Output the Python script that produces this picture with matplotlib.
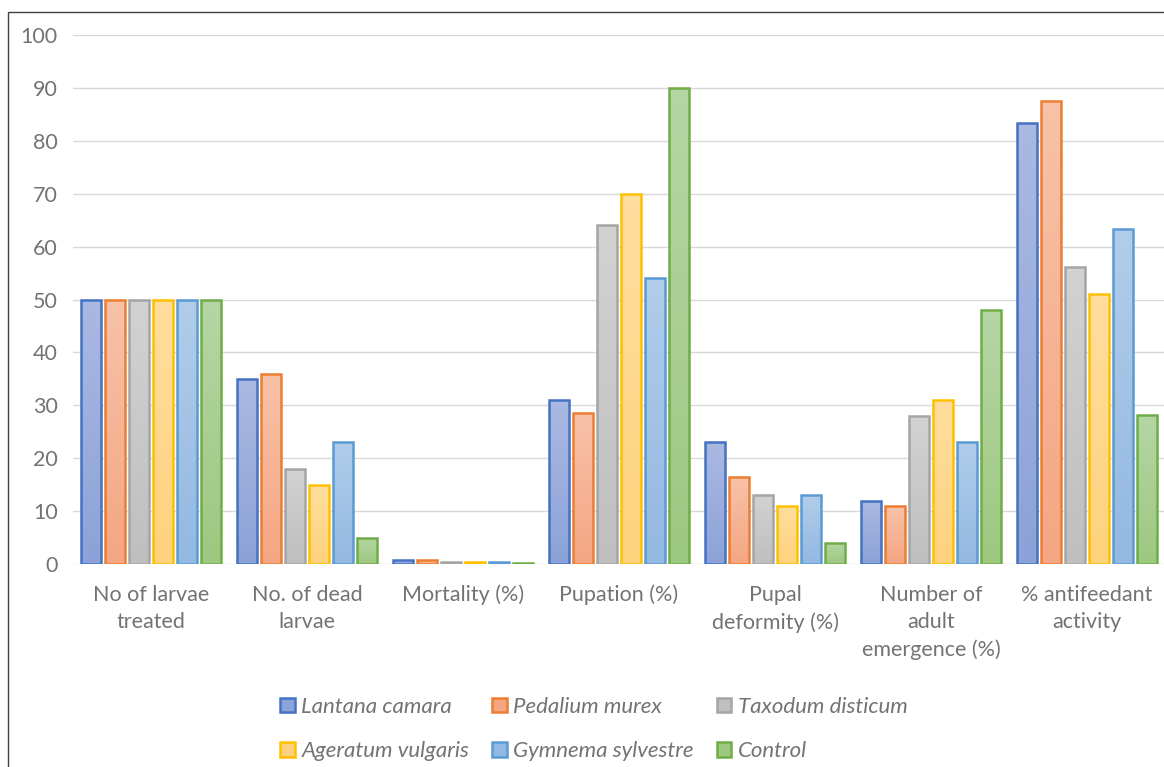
import numpy as np
import matplotlib
matplotlib.use("Agg")
import matplotlib.pyplot as plt
from matplotlib.patches import Patch, Rectangle
from matplotlib.colors import LinearSegmentedColormap

# ── data ──────────────────────────────────────────────────────
categories = ["No of larvae\ntreated", "No. of dead\nlarvae", "Mortality (%)",
              "Pupation (%)", "Pupal\ndeformity (%)",
              "Number of\nadult\nemergence (%)", "% antifeedant\nactivity"]
series = ["Lantana camara", "Pedalium murex", "Taxodum disticum",
          "Ageratum vulgaris", "Gymnema sylvestre", "Control"]

lantana  = [50, 35, 0.7, 31.0, 23.0, 12.0, 83.3]
pedalium = [50, 36, 0.72, 28.5, 16.5, 11.0, 87.5]
taxodum  = [50, 18, 0.36, 64.0, 13.0, 28.0, 56.2]
ageratum = [50, 15, 0.3, 70.0, 11.0, 31.0, 51.0]
gymnema  = [50, 23, 0.46, 54.0, 13.0, 23.0, 63.3]
control  = [50, 5, 0.1, 90.0, 4.0, 48.0, 28.2]
values = [lantana, pedalium, taxodum, ageratum, gymnema, control]

edge_cols = ["#4472C4", "#ED7D31", "#A5A5A5", "#FFC000", "#5B9BD5", "#70AD47"]
top_cols  = ["#AAB9E1", "#F8C2A8", "#D2D2D2", "#FFDE9E", "#B1CDEA", "#B5D6A5"]
bot_cols  = ["#8CA2D8", "#F4A683", "#BFBFBF", "#FED27D", "#93B8E2", "#9DC880"]

plt.rcParams["font.family"] = ["Lato", "DejaVu Sans"]
txt_col = "#737373"

fig = plt.figure(figsize=(11.64, 7.67), dpi=100)
ax = fig.add_axes([73 / 1164, 1 - 564 / 767, 1092 / 1164, (564 - 35) / 767])

x = np.arange(len(categories))
pitch, width = 0.154, 0.128
grad = np.linspace(0, 1, 64).reshape(-1, 1)
for i, (vals, ec, tc, bc) in enumerate(zip(values, edge_cols, top_cols, bot_cols)):
    cmap = LinearSegmentedColormap.from_list(f"g{i}", [bc, tc])
    bars = ax.bar(x + (i - 2.5) * pitch, vals, width, color="none", edgecolor=ec,
                  linewidth=1.8, zorder=4)
    # vertical gradient fill, lighter at the top
    for b in bars:
        x0, y0 = b.get_x(), b.get_y()
        im = ax.imshow(grad, cmap=cmap, origin="lower", aspect="auto",
                       extent=(x0, x0 + b.get_width(), y0, y0 + b.get_height()),
                       zorder=3)
        im.set_clip_path(b)

ax.set_xlim(-0.5, 6.5)
ax.set_ylim(0, 100)
ax.set_yticks(range(0, 101, 10))
ax.yaxis.grid(True, color="#D9D9D9", linewidth=1.0, zorder=0)
ax.set_xticks(x)
ax.set_xticklabels(categories, fontsize=15.5, color=txt_col, linespacing=1.45)
ax.tick_params(axis="both", length=0, labelsize=15.5, labelcolor=txt_col)
ax.tick_params(axis="x", pad=15)
ax.tick_params(axis="y", pad=11)
for s in ax.spines.values():
    s.set_visible(False)

# chart frame
fig.patches.append(Rectangle((8 / 1164, -0.1), 1.2, 1 - 12 / 767 + 0.1,
                             transform=fig.transFigure, fill=False,
                             edgecolor="#404040", linewidth=1.0))

# legend fills row by row
order = [0, 3, 1, 4, 2, 5]
handles = [Patch(facecolor=bot_cols[k], edgecolor=edge_cols[k], linewidth=1.8)
           for k in order]
labels = [series[k] for k in order]
fig.legend(handles, labels, ncol=3, loc="center",
           bbox_to_anchor=(0.5 + 12 / 1164, 1 - 729 / 767),
           frameon=False, prop={"style": "italic", "size": 16},
           labelcolor=txt_col, handlelength=0.65, handleheight=0.65,
           handletextpad=0.3, columnspacing=1.04, labelspacing=1.1)

fig.savefig("out.png", dpi=100)
